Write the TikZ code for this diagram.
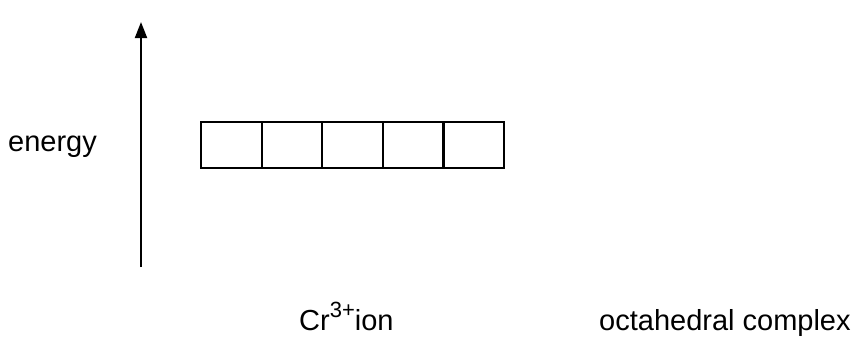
\documentclass[tikz,border=0pt]{standalone}
\usepackage{fontspec}
\setmainfont{Liberation Sans}
\usetikzlibrary{arrows.meta}
\newcommand{\mysup}[1]{\raisebox{0.42em}{\fontsize{22}{24}\selectfont #1}}
\begin{document}
\begin{tikzpicture}[x=1pt,y=-1pt,
  orb/.style={draw,line width=2.2pt,minimum width=60.6pt,minimum height=46pt,inner sep=0pt,outer sep=0pt},
  lbl/.style={anchor=base west,inner sep=0pt,font=\fontsize{29}{34}\selectfont},
  axis/.style={line width=1.9pt,-{Triangle[length=16pt,width=12pt]}}]
\useasboundingbox (0,0) rectangle (856,341);
\fill[white] (0,0) rectangle (856,341);
\node[orb] (b1) at (231.3,145) {};
\node[orb,anchor=west] (b2) at (b1.east) {};
\node[orb,anchor=west] (b3) at (b2.east) {};
\node[orb,anchor=west] (b4) at (b3.east) {};
\node[orb,anchor=west] (b5) at (b4.east) {};
\coordinate (abot) at (141,267);
\coordinate (atop) at (141,22);
\draw[axis] (abot) -- (atop);
\node[lbl] (energy) at (8,151) {energy};
\node[lbl] (cr) at (299,330) {Cr\mysup{3+}ion};
\node[lbl] (oct) at (599,330) {octahedral complex};
\end{tikzpicture}
\end{document}
